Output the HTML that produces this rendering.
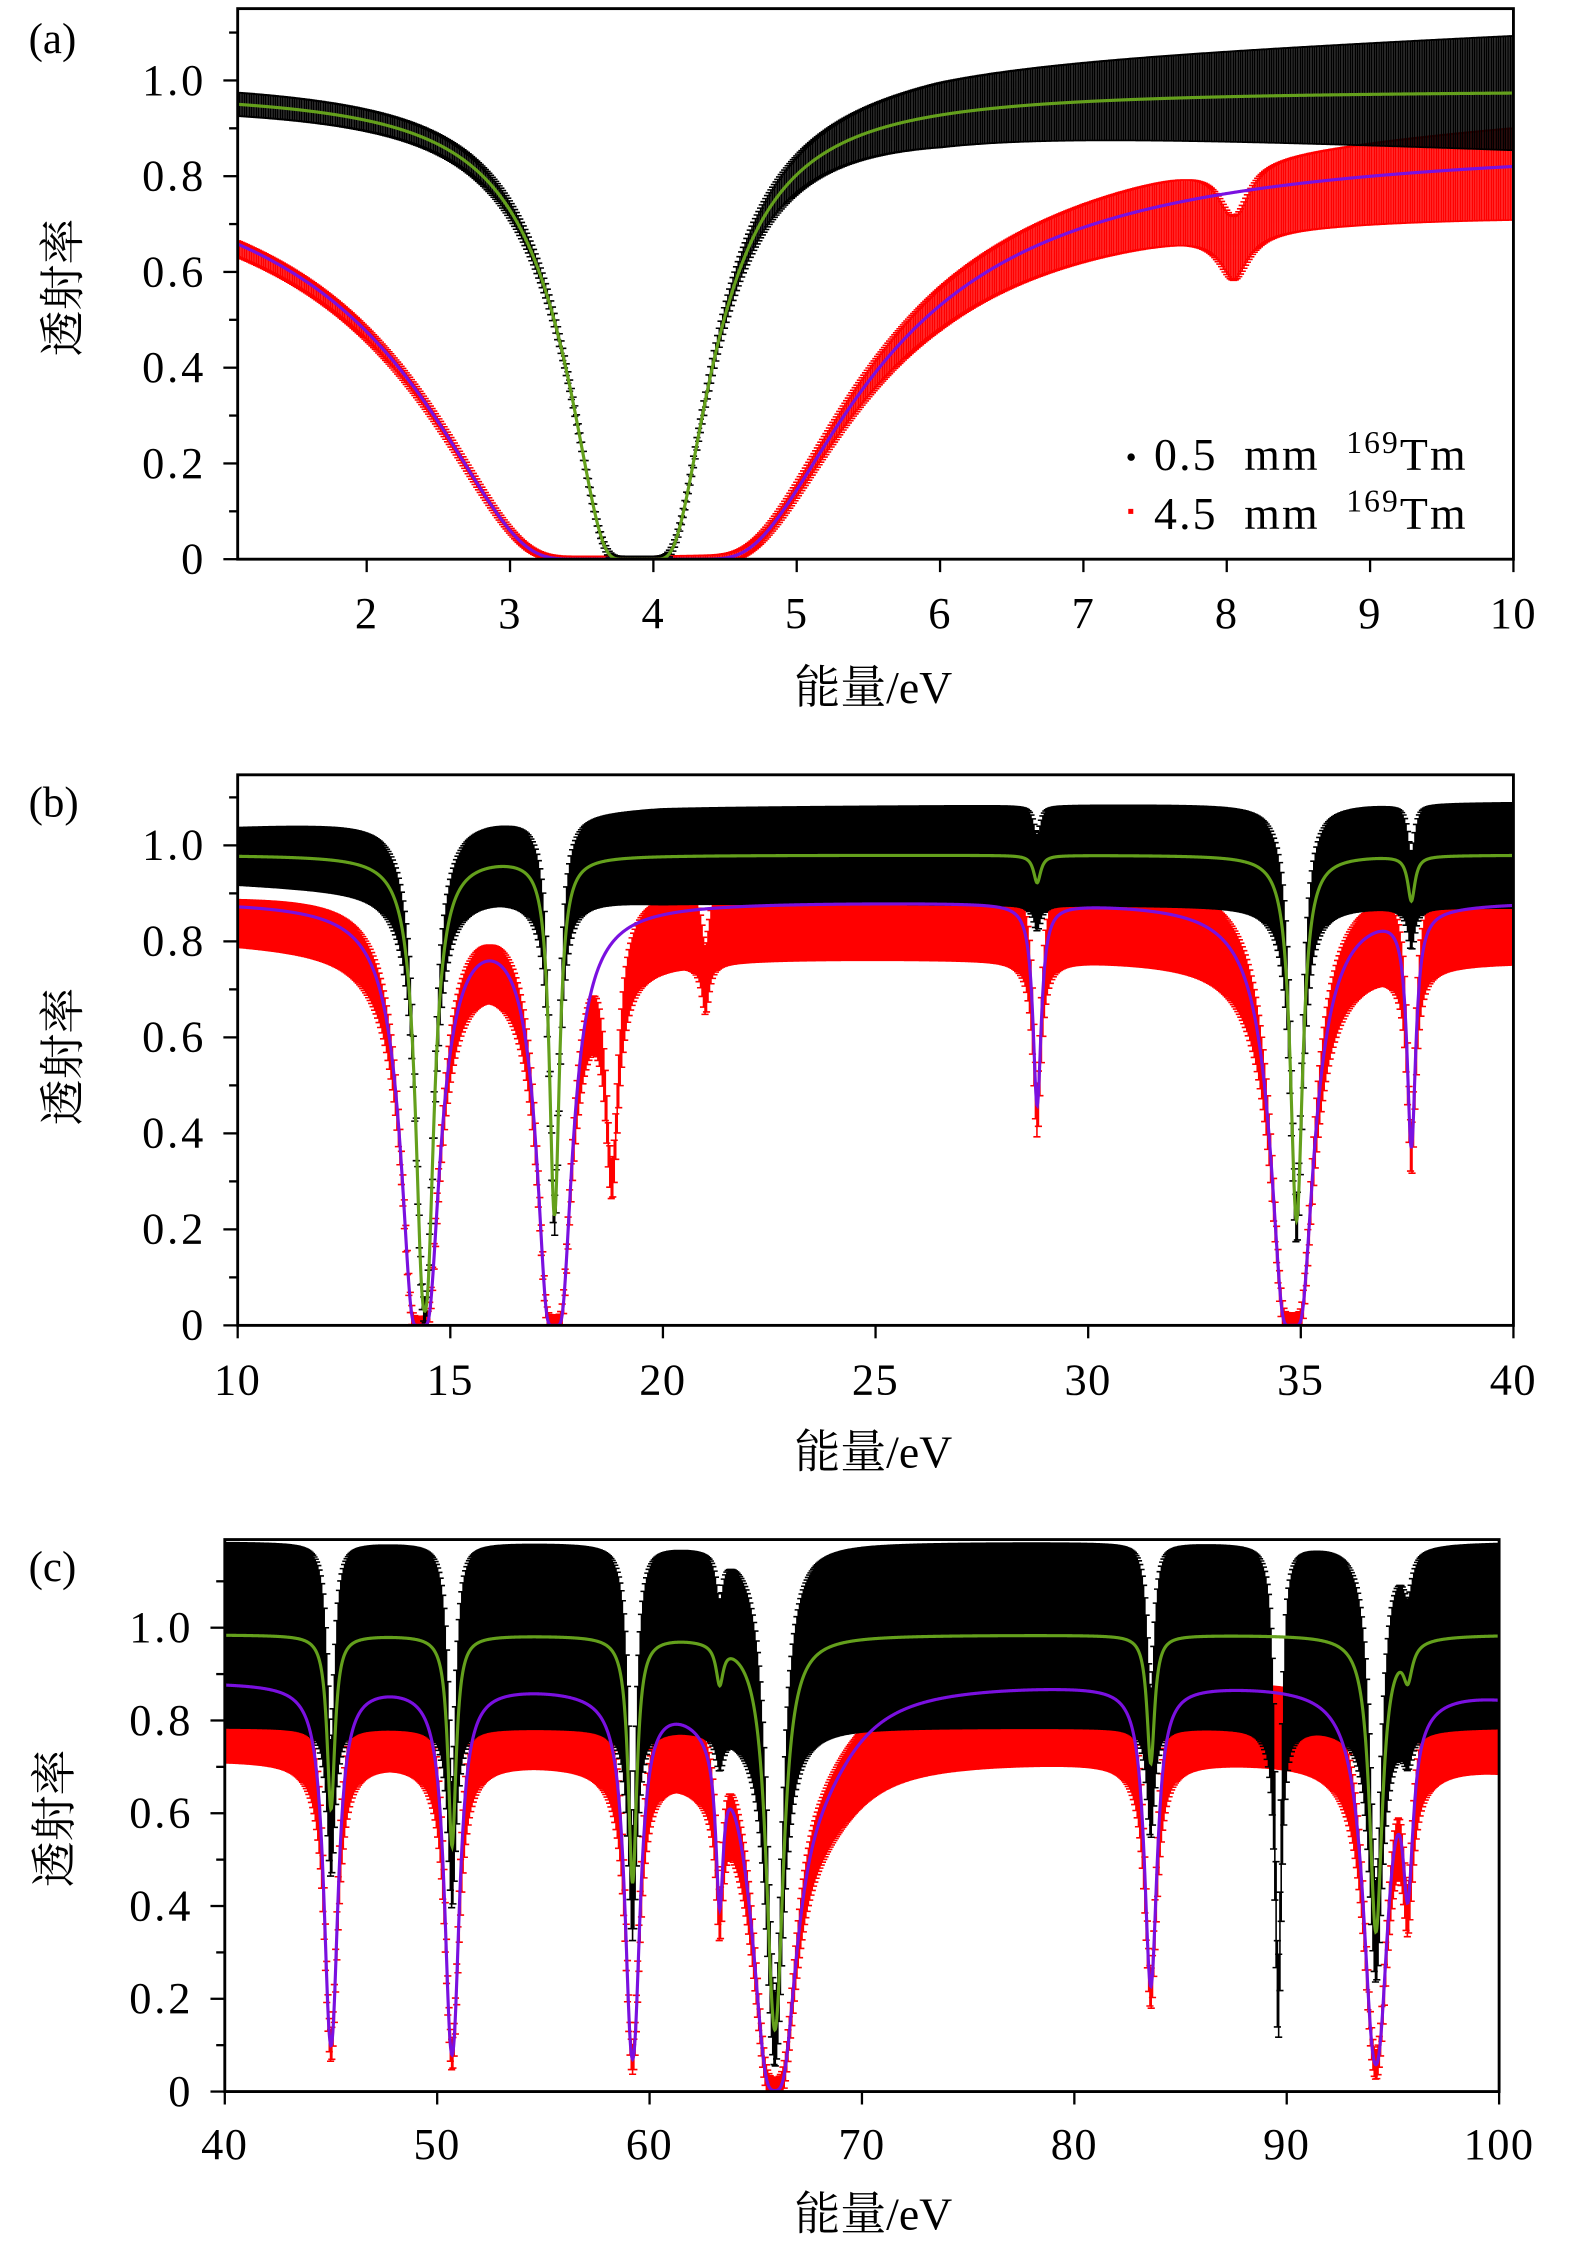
<!DOCTYPE html>
<html><head><meta charset="utf-8"><style>
html,body{margin:0;padding:0;background:#fff}
svg{display:block}
text{font-family:"Liberation Serif","Noto Serif CJK SC",serif;fill:#000}
.cjk{font-family:"Liberation Serif","Noto Serif CJK SC","Noto Sans CJK SC",serif}
</style></head><body>
<svg id="fig" width="1575" height="2254" viewBox="0 0 1100 1568" preserveAspectRatio="none" xmlns="http://www.w3.org/2000/svg"></svg>
<script>
// ---------- Panel (a) data: 1.1–10 eV ----------
const aBlackBase = 0.98;
const aBlackResE = [3.9];
const aBlackResS = [24.3];
const aBlackResW = [0.1];
const aRedBase = 0.87;
const aRedResE = [3.9];
const aRedResS = [219];
const aRedResW = [0.1];
const aRedExtraE = [8.05];
const aRedExtraS = [0.15];
const aRedExtraW = [0.12];
const aErrKnotsE = [1.1, 4, 6, 10];
const aBlackErr = [0.025, 0.02, 0.07, 0.12];
const aRedErr = [0.02, 0.02, 0.06, 0.1];
const aDataScale = [1.0, 0.98];   // black, red data level relative to fit
const aXTicks = [2, 3, 4, 5, 6, 7, 8, 9, 10];

// ---------- Panel (b) data: 10–40 eV ----------
const bBlackBase = 0.98;
const bBlackResE = [14.4, 17.45, 28.8, 34.9, 37.6];
const bBlackResS = [3.5, 1.45, 0.06, 1.5, 0.1];
const bBlackResW = [0.12, 0.1, 0.1, 0.12, 0.1];
const bRedBase = 0.885;
const bRedResE = [14.3, 17.45, 28.8, 34.8, 37.6];
const bRedResS = [14.5, 12.0, 0.65, 15.0, 0.84];
const bRedResW = [0.12, 0.12, 0.1, 0.13, 0.1];
const bRedExtraE = [18.8, 21.0];
const bRedExtraS = [0.95, 0.15];
const bRedExtraW = [0.15, 0.1];
const bErrKnotsE = [10, 20, 40];
const bBlackErr = [0.06, 0.1, 0.11];
const bRedErr = [0.05, 0.08, 0.09];
const bDataScale = [1.0, 0.96];
const bXTicks = [10, 15, 20, 25, 30, 35, 40];

// ---------- Panel (c) data: 40–100 eV ----------
const cBlackBase = 0.985;
const cBlackResE = [45.0, 50.7, 59.2, 63.3, 65.9, 83.6, 94.2, 95.7];
const cBlackResS = [0.48, 0.62, 0.78, 0.09, 2.0, 0.33, 1.05, 0.08];
const cBlackResW = [0.2, 0.2, 0.2, 0.2, 0.3, 0.2, 0.28, 0.25];
const cRedBase = 0.885;
const cRedResE = [45.0, 50.7, 59.2, 63.3, 65.9, 68.0, 83.6, 94.2, 95.7, 103];
const cRedResS = [2.18, 2.4, 2.5, 0.6, 6.0, 0.15, 1.35, 2.7, 0.6, 0.05];
const cRedResW = [0.24, 0.24, 0.24, 0.18, 0.45, 2.2, 0.26, 0.38, 0.25, 4];
const cBlackExtraE = [89.6];
const cBlackExtraS = [1.6];
const cBlackExtraW = [0.12];
const cErrKnotsE = [40, 100];
const cBlackErr = [0.2, 0.2];
const cRedErr = [0.09, 0.09];
const cDataScale = [1.0, 0.91];
const cXTicks = [40, 50, 60, 70, 80, 90, 100];

const yTicks = [0, 0.2, 0.4, 0.6, 0.8, 1.0];
const yTickLabels = ["0", "0.2", "0.4", "0.6", "0.8", "1.0"];

const NS = "http://www.w3.org/2000/svg";
const svg = document.getElementById("fig");
function mk(tag, attrs, parent) {
  const e = document.createElementNS(NS, tag);
  for (const k in attrs) e.setAttribute(k, attrs[k]);
  (parent || svg).appendChild(e);
  return e;
}
function trans(E, base, es, ss, ws) {
  let x = 0;
  for (let i = 0; i < es.length; i++) x += ss[i] / (1 + Math.pow((E - es[i]) / ws[i], 2));
  return base * Math.exp(-x);
}
function interp(E, ke, kv) {
  if (E <= ke[0]) return kv[0];
  for (let i = 1; i < ke.length; i++) if (E <= ke[i]) {
    const t = (E - ke[i - 1]) / (ke[i] - ke[i - 1]);
    return kv[i - 1] + t * (kv[i] - kv[i - 1]);
  }
  return kv[kv.length - 1];
}

const panels = [
  { id: "a", L: 166, R: 1057, T: 6, B: 389, x0: 1.1, x1: 10, ymax: 1.15, step: 0.012, ticks: aXTicks, scale: aDataScale,
    letter: [20, 37], xlab: 489, ylabX: 44, ylabY: 200, tickLabY: 437,
    black: [aBlackBase, aBlackResE, aBlackResS, aBlackResW, [], [], [], aErrKnotsE, aBlackErr],
    red: [aRedBase, aRedResE, aRedResS, aRedResW, aRedExtraE, aRedExtraS, aRedExtraW, aErrKnotsE, aRedErr] },
  { id: "b", L: 166, R: 1057, T: 539, B: 922, x0: 10, x1: 40, ymax: 1.147, step: 0.035, ticks: bXTicks, scale: bDataScale,
    letter: [20, 568], xlab: 1021, ylabX: 44, ylabY: 735, tickLabY: 970,
    black: [bBlackBase, bBlackResE, bBlackResS, bBlackResW, [], [], [], bErrKnotsE, bBlackErr],
    red: [bRedBase, bRedResE, bRedResS, bRedResW, bRedExtraE, bRedExtraS, bRedExtraW, bErrKnotsE, bRedErr] },
  { id: "c", L: 157, R: 1047, T: 1071, B: 1455, x0: 40, x1: 100, ymax: 1.19, step: 0.06, ticks: cXTicks, scale: cDataScale,
    letter: [20, 1100], xlab: 1551, ylabX: 38, ylabY: 1265, tickLabY: 1502,
    black: [cBlackBase, cBlackResE, cBlackResS, cBlackResW, cBlackExtraE, cBlackExtraS, cBlackExtraW, cErrKnotsE, cBlackErr],
    red: [cRedBase, cRedResE, cRedResS, cRedResW, [], [], [], cErrKnotsE, cRedErr] }
];

panels.forEach(p => {
  const g = mk("g", {});
  
  
  const xs = v => p.L + (v - p.x0) / (p.x1 - p.x0) * (p.R - p.L);
  const ys = v => p.B - v / p.ymax * (p.B - p.T);
  const defs = mk("defs", {}, g);
  const cp = mk("clipPath", { id: "clip-" + p.id }, defs);
  mk("rect", { x: p.L, y: p.T, width: p.R - p.L, height: p.B - p.T }, cp);
  const plot = mk("g", { "clip-path": "url(#clip-" + p.id + ")" }, g);

  [["red", "#ff0000", 1], ["black", "#000000", 0]].forEach(([name, col, si]) => {
    const s = p[name];
    let d = "";
    for (let E = p.x0; E <= p.x1 + 1e-9; E += p.step) {
      const model = trans(E, s[0], s[1], s[2], s[3]);
      let v = s[4].length ? model * Math.exp(-s[4].reduce((a, e, i) => a + s[5][i] / (1 + Math.pow((E - e) / s[6][i], 2)), 0)) : model;
      const rel = Math.min(1, v / s[0]);
      v = v * (1 - (1 - p.scale[si]) * rel);
      const err = interp(E, s[7], s[8]) * (0.3 + 0.7 * rel);
      const x = xs(E), y1 = ys(v - err), y2 = ys(v + err);
      d += `M${x.toFixed(2)} ${y1.toFixed(2)}V${y2.toFixed(2)}M${(x - 2.5).toFixed(2)} ${y1.toFixed(2)}h5M${(x - 2.5).toFixed(2)} ${y2.toFixed(2)}h5`;
    }
    const path = mk("path", { d: d, stroke: col, "stroke-width": 1.1, fill: "none" }, plot);
    
    
  });

  [["red", "#7a10e0", "purple-fit"], ["black", "#64a01c", "green-fit"]].forEach(([name, col, nm]) => {
    const s = p[name];
    let d = "";
    const n = 2500;
    for (let i = 0; i <= n; i++) {
      const E = p.x0 + (p.x1 - p.x0) * i / n;
      d += (i ? "L" : "M") + xs(E).toFixed(2) + " " + ys(trans(E, s[0], s[1], s[2], s[3])).toFixed(2);
    }
    const path = mk("path", { d: d, stroke: col, "stroke-width": 2.2, fill: "none" }, plot);
    
    
  });

  const fr = mk("rect", { x: p.L, y: p.T, width: p.R - p.L, height: p.B - p.T, fill: "none", stroke: "#000", "stroke-width": 2 }, g);
  
  

  for (let k = 0; k <= Math.floor(p.ymax * 10 + 1e-6); k++) {
    const v = k / 10, y = ys(v), major = k % 2 === 0;
    mk("line", { x1: p.L - (major ? 10 : 6), x2: p.L, y1: y, y2: y, stroke: "#000", "stroke-width": 1.6 }, g);
  }
  yTicks.forEach((v, i) => {
    const t = mk("text", { x: p.L - 22, y: ys(v) + 10, "text-anchor": "end", "font-size": 31, "letter-spacing": 2 }, g);
    t.textContent = yTickLabels[i];
    
    
  });
  p.ticks.forEach(v => {
    const x = xs(v);
    mk("line", { x1: x, x2: x, y1: p.B, y2: p.B + 9, stroke: "#000", "stroke-width": 1.6 }, g);
    const t = mk("text", { x: x, y: p.tickLabY, "text-anchor": "middle", "font-size": 31, "letter-spacing": 1 }, g);
    t.textContent = String(v);
    
    
  });
  const xl = mk("text", { x: 610, y: p.xlab, "text-anchor": "middle", "font-size": 32, class: "cjk" }, g);
  xl.textContent = "能量/eV";
  
  
  const yl = mk("text", { x: p.ylabX, y: p.ylabY, "text-anchor": "middle", "font-size": 32, class: "cjk", transform: `rotate(-90 ${p.ylabX} ${p.ylabY})`, dy: 11 }, g);
  yl.textContent = "透射率";
  
  
  const lt = mk("text", { x: p.letter[0], y: p.letter[1], "font-size": 30 }, g);
  lt.textContent = "(" + p.id + ")";
  
  
});

const leg = mk("g", {});


mk("circle", { cx: 790, cy: 318, r: 2.6, fill: "#000" }, leg);
mk("rect", { x: 788, y: 354, width: 3.5, height: 3.5, fill: "#ff0000" }, leg);
[["0.5", 327], ["4.5", 368]].forEach(([t, y]) => {
  const tx = mk("text", { x: 806, y: y, "font-size": 32, "word-spacing": 9, "letter-spacing": 1.5 }, leg);
  tx.innerHTML = t + ' mm <tspan dy="-12" font-size="22">169</tspan><tspan dy="12">Tm</tspan>';
  
  
});
</script>
</body></html>
